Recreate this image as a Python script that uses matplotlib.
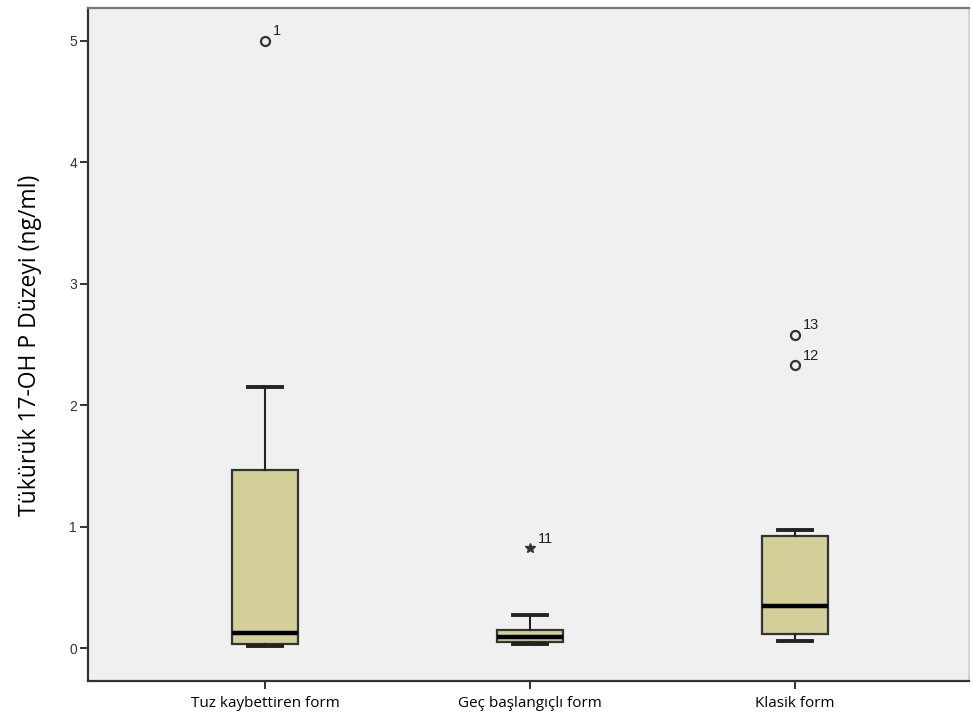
import matplotlib
matplotlib.use("Agg")
import matplotlib.pyplot as plt

# Group names and five-number summaries of salivary 17-OH P (ng/ml)
groups = ["Tuz kaybettiren form", "Geç başlangıçlı form", "Klasik form"]
whisker_low = [0.016, 0.033, 0.058]
q1 = [0.033, 0.050, 0.115]
medians = [0.124, 0.090, 0.346]
q3 = [1.466, 0.148, 0.920]
whisker_high = [2.15, 0.272, 0.97]

# Outliers (circles) and extreme values (stars) with case numbers
outlier_group = [1, 3, 3]
outlier_value = [5.0, 2.33, 2.58]
outlier_case = ["1", "12", "13"]
extreme_group = [2]
extreme_value = [0.82]
extreme_case = ["11"]

y_ticks = [0, 1, 2, 3, 4, 5]
y_label = "Tükürük 17-OH P Düzeyi (ng/ml)"

fig = plt.figure(figsize=(9.71, 7.18), dpi=100)
ax = fig.add_axes([88 / 971, 1 - 681 / 718, (969 - 88) / 971, (681 - 8) / 718])
ax.set_facecolor("#f0f0f0")

stats = []
for i in range(len(groups)):
    stats.append(dict(med=medians[i], q1=q1[i], q3=q3[i],
                      whislo=whisker_low[i], whishi=whisker_high[i],
                      fliers=[], label=groups[i]))

edge = "#222222"
ax.bxp(stats, positions=[1, 2, 3], widths=0.25, showfliers=False,
       patch_artist=True,
       boxprops=dict(facecolor="#d3cf99", edgecolor="#333333", linewidth=1.6),
       medianprops=dict(color="black", linewidth=3.2, solid_capstyle="butt"),
       whiskerprops=dict(color=edge, linewidth=1.5),
       capprops=dict(color=edge, linewidth=2.8),
       capwidths=0.13)

for g, v, c in zip(outlier_group, outlier_value, outlier_case):
    ax.plot(g, v, marker="o", ms=6.5, mfc="none", mec="#333333", mew=1.6, ls="none")
    ax.annotate(c, (g, v), xytext=(6, 4), textcoords="offset points",
                fontsize=10.5, color="#222222", family="Liberation Sans")

for g, v, c in zip(extreme_group, extreme_value, extreme_case):
    ax.plot(g, v, marker="*", ms=7.5, color="#333333", ls="none")
    ax.annotate(c, (g, v), xytext=(6, 4), textcoords="offset points",
                fontsize=10.5, color="#222222", family="Liberation Sans")

ax.set_xlim(1 - 177 / 265, 3 + 174 / 265)
ax.set_ylim(-(681 - 648) / 121.4, (648 - 8) / 121.4)

ax.set_yticks(y_ticks)
ax.set_yticklabels([str(t) for t in y_ticks], family="Liberation Sans",
                   fontsize=10, color="#333333")
ax.set_xticks([1, 2, 3])
ax.set_xticklabels(groups, family="Open Sans", fontsize=11, color="black")
ax.tick_params(axis="both", direction="out", length=6, width=1.4, color="#333333")
ax.tick_params(axis="x", pad=5)
ax.tick_params(axis="y", pad=2)

for side in ["left", "bottom"]:
    ax.spines[side].set_color("#333333")
    ax.spines[side].set_linewidth(1.6)
for side in ["top"]:
    ax.spines[side].set_color("#777777")
    ax.spines[side].set_linewidth(1.6)
ax.spines["right"].set_color("#cccccc")
ax.spines["right"].set_linewidth(1.2)

fig.text(30 / 971, 1 - 345 / 718, y_label, rotation=90, ha="center", va="center",
         family="Open Sans", fontsize=16.5, color="black")

fig.savefig("out.png", dpi=100)
